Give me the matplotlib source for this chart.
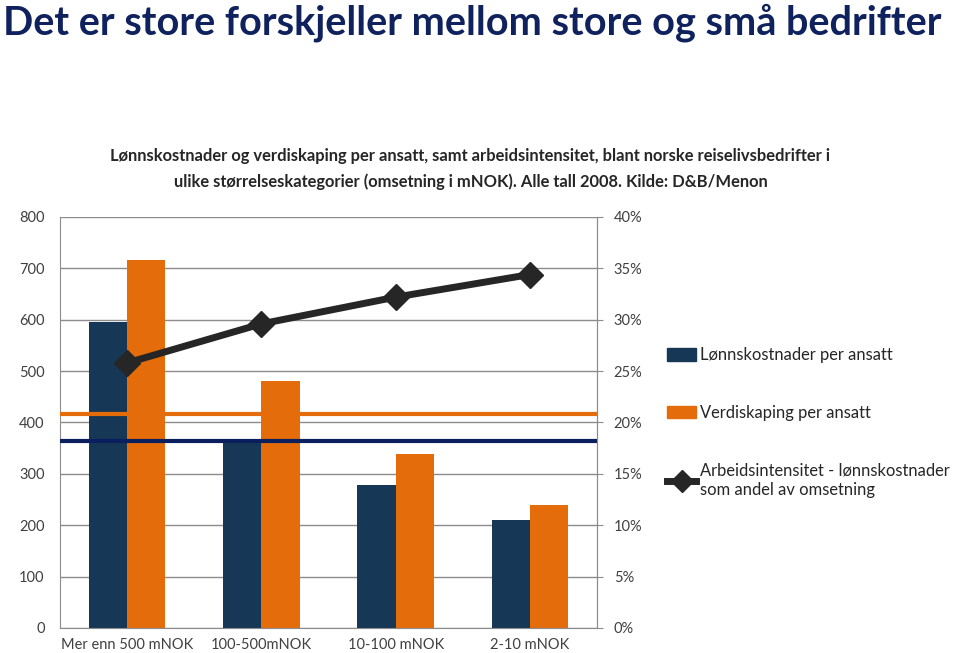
import matplotlib
matplotlib.use("Agg")
import matplotlib.pyplot as plt
from matplotlib.lines import Line2D
from matplotlib.patches import Patch
import numpy as np

categories = ["Mer enn 500 mNOK", "100-500mNOK", "10-100 mNOK", "2-10 mNOK"]
lonn = [595, 366, 278, 210]
verdi = [716, 481, 339, 239]
intensitet = [25.8, 29.6, 32.2, 34.4]
avg_verdi = 416
avg_lonn = 363

NAVY = "#163755"
ORANGE = "#E46C0A"
LINE = "#262626"
TXT = "#404040"
GRID = "#8C8C8C"

plt.rcParams['font.family'] = ['Lato', 'DejaVu Sans']

fig = plt.figure(figsize=(9.6, 6.53), dpi=100)
ax = fig.add_axes([0.0625, 0.0383, 0.5594, 0.6294])
ax2 = ax.twinx()

x = np.arange(len(categories))
w = 0.285
ax.bar(x - w/2, lonn, w, color=NAVY, zorder=2)
ax.bar(x + w/2, verdi, w, color=ORANGE, zorder=2)
ax.axhline(avg_verdi, color=ORANGE, lw=3, zorder=3)
ax.axhline(avg_lonn, color="#0A205E", lw=3, zorder=3)

ax.set_xlim(-0.5, 3.5)
ax.set_ylim(0, 800)
ax.set_yticks(range(0, 801, 100))
ax.grid(axis='y', color=GRID, lw=1, zorder=0)
ax.set_axisbelow(True)
ax.set_xticks(x)
ax.set_xticklabels(categories)
ax.tick_params(axis='x', length=0, pad=7, labelsize=10.5, labelcolor=TXT)
ax.tick_params(axis='y', length=0, pad=11, labelsize=10.5, labelcolor=TXT)
ax.spines['top'].set_visible(False)
for s in ['left', 'bottom', 'right']:
    ax.spines[s].set_color(GRID)

ax2.plot(x, intensitet, color=LINE, lw=5, marker='D', ms=13, zorder=5)
ax2.set_ylim(0, 40)
ax2.set_yticks(range(0, 41, 5))
ax2.set_yticklabels([f"{v}%" for v in range(0, 41, 5)])
ax2.tick_params(axis='y', length=4, color=GRID, pad=8, labelsize=10.5, labelcolor=TXT)
for s in ['top', 'left', 'bottom']:
    ax2.spines[s].set_visible(False)
ax2.spines['right'].set_color(GRID)

fig.text(0.003, 0.966, "Det er store forskjeller mellom store og små bedrifter",
         fontsize=28.5, fontweight='bold', color="#0F225E", ha='left', va='center')
fig.text(0.49, 0.741, "Lønnskostnader og verdiskaping per ansatt, samt arbeidsintensitet, blant norske reiselivsbedrifter i\n"
         "ulike størrelseskategorier (omsetning i mNOK). Alle tall 2008. Kilde: D&B/Menon",
         fontsize=11.9, fontweight='bold', color="#262626", ha='center', va='center', linespacing=1.65)

handles = [Patch(color=NAVY), Patch(color=ORANGE),
           Line2D([0], [0], color=LINE, lw=5, marker='D', ms=11)]
labels = ["Lønnskostnader per ansatt", "Verdiskaping per ansatt",
          "Arbeidsintensitet - lønnskostnader\nsom andel av omsetning"]
leg = fig.legend(handles, labels, loc='upper left', bbox_to_anchor=(0.688, 0.478),
                 frameon=False, fontsize=11.9, labelspacing=2.5, handlelength=1.75,
                 handleheight=0.8, handletextpad=0.25, borderaxespad=0)
for t in leg.get_texts():
    t.set_color("#262626")
    t.set_linespacing(1.3)

fig.savefig("out.png", dpi=100)
